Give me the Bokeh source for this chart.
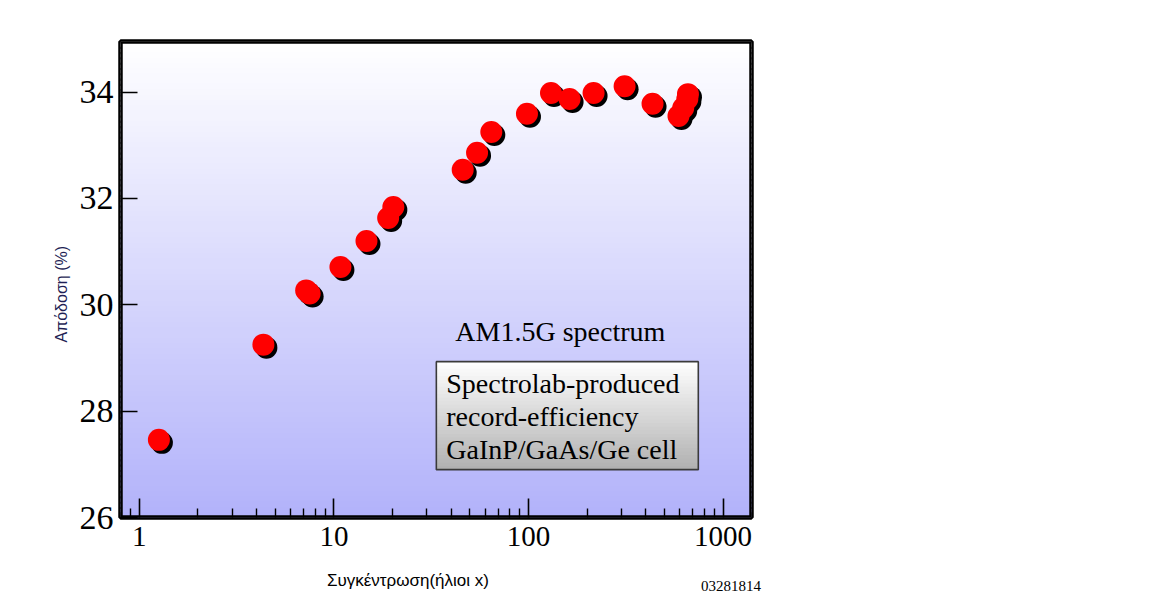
import numpy as np
from bokeh.plotting import figure
from bokeh.models import (FixedTicker, BoxAnnotation, Label, Range1d, ColumnDataSource,
                          Title, LogAxis)
from bokeh.embed import file_html
from bokeh.resources import INLINE

# ---- data ----
concentration = [1.26, 4.34, 7.2, 7.5, 10.8, 14.7, 19.0, 20.2, 45.9, 54.4, 64.4,
                 98.2, 130.5, 162.6, 216.0, 311.8, 434.0, 590.0, 624.0, 655.0, 660.0]
efficiency = [27.46, 29.25, 30.27, 30.21, 30.71, 31.20, 31.63, 31.84, 32.54, 32.86, 33.25,
              33.59, 33.98, 33.87, 33.98, 34.11, 33.78, 33.55, 33.70, 33.87, 33.96]

x_major_ticks = [1, 10, 100, 1000]
x_tick_labels = ["1", "10", "100", "1000"]
x_minor_ticks = [0.9] + [m * d for d in (1, 10, 100) for m in range(2, 10)]
y_ticks = [26, 28, 30, 32, 34]

x_label = "Συγκέντρωση(ήλιοι x)"
y_label = "Απόδοση (%)"
title_text = "AM1.5G spectrum"
box_lines = ["Spectrolab-produced", "record-efficiency", "GaInP/GaAs/Ge cell"]
code_text = "03281814"

SERIF = "Liberation Serif"
SANS = "Liberation Sans"

X0, X1 = 0.8, 1400
Y0, Y1 = 26, 34.95

W, H = 1150, 600
FL, FT, FW, FH = 120, 41, 631, 476

p = figure(width=W, height=H, x_axis_type="log",
           x_range=Range1d(X0, X1), y_range=Range1d(Y0, Y1),
           min_border_left=FL, min_border_right=W - FL - FW,
           min_border_top=FT, min_border_bottom=H - FT - FH,
           output_backend="svg", toolbar_location=None)
p.background_fill_color = "white"
p.border_fill_color = "white"
p.grid.visible = False
p.outline_line_color = "black"
p.outline_line_width = 4.5

# vertical gradient background (white -> lavender), overlapping strips
top_c = np.array([255, 255, 255])
bot_c = np.array([178, 178, 250])
N = 90
edges = np.linspace(Y0, Y1, N + 1)
step = edges[1] - edges[0]
for i in range(N):
    t = (i + 0.5) / N  # 0 bottom, 1 top
    c = bot_c + (top_c - bot_c) * t
    col = "#%02x%02x%02x" % tuple(int(round(v)) for v in c)
    p.add_layout(BoxAnnotation(bottom=edges[i] if i > 0 else None,
                               top=edges[i + 1] + 0.6 * step if i < N - 1 else None,
                               fill_color=col, fill_alpha=1, line_color=None,
                               level="underlay"))

# ---- markers with drop shadow ----
dx_factor = 10 ** (3 / 194.6)
dy = 3 / 53.25
src = ColumnDataSource(dict(x=concentration, y=efficiency,
                            xs=[v * dx_factor for v in concentration],
                            ys=[v - dy for v in efficiency]))
p.scatter("xs", "ys", source=src, size=22, fill_color="black", line_color=None)
p.scatter("x", "y", source=src, size=22, fill_color="#ff0000", line_color=None)

# ---- axes ----
xa = p.xaxis[0]
xa.ticker = FixedTicker(ticks=x_major_ticks, minor_ticks=x_minor_ticks)
xa.major_label_overrides = {t: l for t, l in zip(x_major_ticks, x_tick_labels)}
xa.axis_line_color = None
xa.major_tick_in = 19
xa.major_tick_out = 0
xa.minor_tick_in = 9
xa.minor_tick_out = 0
xa.major_tick_line_width = 1.6
xa.minor_tick_line_width = 1.4
xa.major_tick_line_color = "black"
xa.minor_tick_line_color = "black"
xa.major_label_text_font = SERIF
xa.major_label_text_font_size = "29px"
xa.major_label_text_color = "black"
xa.major_label_standoff = 9

ya = p.yaxis[0]
ya.ticker = FixedTicker(ticks=y_ticks)
ya.axis_line_color = None
ya.major_tick_in = 17
ya.major_tick_out = 0
ya.minor_tick_line_color = None
ya.major_tick_line_width = 1.4
ya.major_tick_line_color = "black"
ya.major_label_text_font = SERIF
ya.major_label_text_font_size = "34px"
ya.major_label_text_color = "black"
ya.major_label_standoff = 7


def text_axis(pos, text, font, size, standoff):
    ax = LogAxis(ticker=FixedTicker(ticks=[pos], minor_ticks=[]),
                 major_label_overrides={pos: text})
    ax.axis_line_color = None
    ax.major_tick_line_color = None
    ax.minor_tick_line_color = None
    ax.major_tick_in = 0
    ax.major_tick_out = 0
    ax.minor_tick_in = 0
    ax.minor_tick_out = 0
    ax.major_label_text_font = font
    ax.major_label_text_font_size = size
    ax.major_label_text_color = "black"
    ax.major_label_standoff = standoff
    p.add_layout(ax, "below")


# x-axis title and figure code, placed under the axis at their own positions
text_axis(24, x_label, SANS, "17px", 22)
text_axis(1100, code_text, SERIF, "15px", -12)

# frame outline on top (inner half; outer half from plot outline)
p.add_layout(BoxAnnotation(fill_color=None, fill_alpha=0, line_color="black",
                           line_alpha=1, line_width=4.5, level="overlay"))

# ---- text box (gradient grey) ----
bx0, bx1 = 33.6, 746
by0, by1 = 26.90, 28.93
NB = 30
bedges = np.linspace(by0, by1, NB + 1)
bstep = bedges[1] - bedges[0]
btop = np.array([255, 255, 255])
bbot = np.array([176, 176, 176])
for i in range(NB):
    t = (i + 0.5) / NB
    c = bbot + (btop - bbot) * t
    col = "#%02x%02x%02x" % tuple(int(round(v)) for v in c)
    top_edge = bedges[i + 1] + (0.6 * bstep if i < NB - 1 else 0)
    p.add_layout(BoxAnnotation(left=bx0, right=bx1, bottom=bedges[i], top=top_edge,
                               fill_color=col, fill_alpha=1, line_color=None,
                               level="underlay"))
p.add_layout(BoxAnnotation(left=bx0, right=bx1, bottom=by0, top=by1, fill_color=None,
                           fill_alpha=0, line_color="#3a3a3a", line_alpha=1,
                           line_width=1.6, level="underlay"))

line_y = [28.52, 27.90, 27.28]
for txt, yy in zip(box_lines, line_y):
    p.add_layout(Label(x=37.8, y=yy, text=txt, text_font=SERIF, text_font_size="28px",
                       text_color="black", text_align="left", text_baseline="middle"))

p.add_layout(Label(x=145.7, y=29.49, text=title_text, text_font=SERIF,
                   text_font_size="28px", text_color="black",
                   text_align="center", text_baseline="middle"))

# y-axis title as a side-panel title
p.add_layout(Title(text=y_label, align="left", offset=175, text_font=SANS,
                   text_font_size="16px", text_font_style="normal",
                   text_color="#1f1f55", standoff=14), "left")

open("out.html", "w").write(file_html(p, INLINE))
